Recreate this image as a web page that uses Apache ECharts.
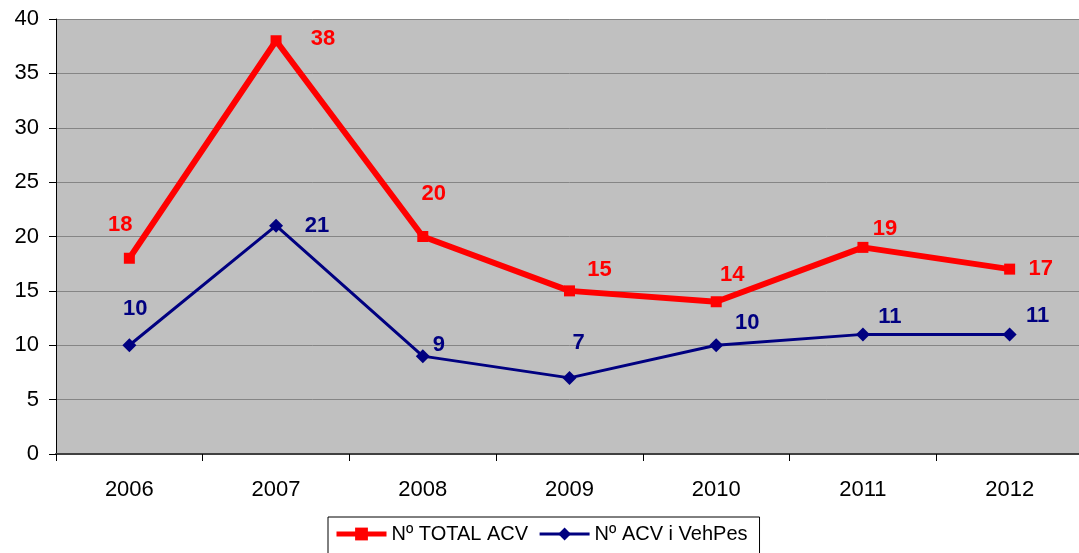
<!DOCTYPE html>
<html>
<head>
<meta charset="utf-8">
<script src="https://cdn.jsdelivr.net/npm/echarts@6/dist/echarts.min.js"></script>
<style>
  html, body { margin: 0; padding: 0; background: #ffffff; overflow: hidden; }
  #chart { width: 1083px; height: 553px; }
</style>
</head>
<body>
<div id="chart"></div>
<script>
// Years on the category axis
const years = ['2006', '2007', '2008', '2009', '2010', '2011', '2012'];
// Total accidents per year
const totalAcv = [18, 38, 20, 15, 14, 19, 17];
// Accidents involving vehicles and pedestrians per year
const vehPesAcv = [10, 21, 9, 7, 10, 11, 11];
// Series names shown in the legend
const seriesNames = ['Nº TOTAL ACV', 'Nº ACV i VehPes'];

// Label offsets (px) next to each point
const totalOffsets = [[-9, -33], [47, -2], [11, -43], [30, -21], [16, -27], [22, -18], [31, 0]];
const vehPesOffsets = [[6, -36], [41, 0], [16, -11], [9, -35], [31, -22], [27, -17], [28, -18]];

const FONT = 'Liberation Sans, Arial, sans-serif';

function withLabels(values, offsets, color) {
  return values.map((v, i) => ({
    value: v,
    label: {
      show: true,
      position: 'inside',
      offset: offsets[i],
      color: color,
      fontSize: 22,
      fontWeight: 'bold',
      fontFamily: FONT
    }
  }));
}

const chart = echarts.init(document.getElementById('chart'), null, { renderer: 'canvas' });
chart.setOption({
  animation: false,
  textStyle: { fontFamily: FONT },
  grid: {
    left: 56, right: 0, top: 19, bottom: 99,
    show: true, backgroundColor: '#c0c0c0', borderWidth: 0
  },
  legend: {
    left: 328, top: 517,
    padding: [7, 12, 10, 6],
    borderColor: '#000', borderWidth: 1,
    itemWidth: 50, itemHeight: 16, itemGap: 10,
    textStyle: { fontSize: 20, color: '#000', fontFamily: FONT },
    data: [
      { name: seriesNames[0], lineStyle: { width: 5 } },
      { name: seriesNames[1], lineStyle: { width: 3 } }
    ]
  },
  xAxis: {
    type: 'category',
    data: years,
    boundaryGap: true,
    axisLine: { lineStyle: { color: '#404040', width: 2 } },
    axisTick: { show: true, length: 7, lineStyle: { color: '#000' } },
    axisLabel: { color: '#000', fontSize: 22, margin: 25 },
    splitLine: { show: false }
  },
  yAxis: {
    type: 'value',
    min: 0, max: 40, interval: 5,
    axisLine: { show: true, lineStyle: { color: '#000', width: 1 } },
    axisTick: { show: true, length: 7, lineStyle: { color: '#000' } },
    axisLabel: { color: '#000', fontSize: 22, margin: 17 },
    splitLine: { show: true, lineStyle: { color: '#858585', width: 1 } }
  },
  series: [
    {
      name: seriesNames[0],
      type: 'line',
      data: withLabels(totalAcv, totalOffsets, '#ff0000'),
      symbol: 'rect',
      symbolSize: 11,
      lineStyle: { color: '#ff0000', width: 6 },
      itemStyle: { color: '#ff0000' },
      z: 3
    },
    {
      name: seriesNames[1],
      type: 'line',
      data: withLabels(vehPesAcv, vehPesOffsets, '#000080'),
      symbol: 'diamond',
      symbolSize: 14,
      lineStyle: { color: '#000080', width: 3 },
      itemStyle: { color: '#000080' },
      z: 2
    }
  ]
});
</script>
</body>
</html>
